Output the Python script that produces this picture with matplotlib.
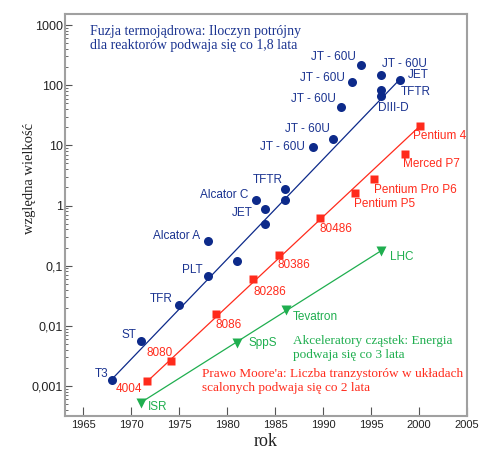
"""Trzy prawa wzrostu: fuzja, prawo Moore'a, akceleratory."""

import matplotlib.pyplot as plt
from matplotlib.ticker import FixedLocator, FixedFormatter, LogLocator, NullFormatter

# --- dane: fuzja termojadrowa ---
fusion_years = [1968, 1971, 1975, 1978, 1978, 1981, 1983, 1984, 1984, 1986,
                1986, 1988.9, 1991, 1991.9, 1993, 1994, 1996, 1996, 1996, 1998]
fusion_values = [0.00126, 0.0057, 0.022, 0.067, 0.26, 0.118, 1.25, 0.885, 0.49, 1.86,
                 1.25, 9.3, 12.9, 43.4, 113, 219, 149, 83, 66, 120]
fusion_labels = ['T3', 'ST', 'TFR', 'PLT', 'Alcator A', '', 'Alcator C', 'JET', '', 'TFTR',
                 '', 'JT - 60U', 'JT - 60U', 'JT - 60U', 'JT - 60U', 'JT - 60U', 'JT - 60U',
                 'TFTR', 'DIII-D', 'JET']
fusion_trend_years = [1968, 1998]
fusion_trend = [0.0013, 125]

# --- dane: procesory ---
cpu_years = [1971.7, 1974.1, 1978.8, 1982.7, 1985.4, 1989.7, 1993.3, 1995.3, 1998.5, 2000.1]
cpu_values = [0.0012, 0.0026, 0.0159, 0.059, 0.151, 0.63, 1.6, 2.72, 7.2, 21]
cpu_labels = ['4004', '8080', '8086', '80286', '80386', '80486', 'Pentium P5',
              'Pentium Pro P6', 'Merced P7', 'Pentium 4']
cpu_trend_years = [1971.7, 2000.1]
cpu_trend = [0.0012, 21]

# --- dane: akceleratory ---
acc_years = [1971, 1981, 1986.1, 1996]
acc_values = [0.00053, 0.0052, 0.0183, 0.175]
acc_labels = ['ISR', 'SppS', 'Tevatron', 'LHC']

y_ticks = [0.001, 0.01, 0.1, 1, 10, 100, 1000]
y_tick_labels = ['0,001', '0,01', '0,1', '1', '10', '100', '1000']
x_ticks = [1965, 1970, 1975, 1980, 1985, 1990, 1995, 2000, 2005]

BLUE = '#0d2a8a'
BLUE_TXT = '#1a3390'
RED = '#ff2b1c'
GREEN = '#1fae4f'
SANS = 'Liberation Sans'
SERIF = 'Liberation Serif'

# przesuniecia etykiet w pikselach (dx, dy, ha, va)
fusion_offsets = [(-4, 3, 'right', 'baseline'), (-4, 3, 'right', 'baseline'),
                  (-6, 3, 'right', 'baseline'), (-5, 3, 'right', 'baseline'),
                  (-8, 1.5, 'right', 'baseline'), (0, 0, 'left', 'center'),
                  (-8, 1.5, 'right', 'baseline'), (-13, -4, 'right', 'center'),
                  (0, 0, 'left', 'center'), (-2, 6, 'right', 'baseline'),
                  (0, 0, 'left', 'center'), (-8, 0, 'right', 'center'),
                  (-3, 7, 'right', 'baseline'), (-5, 4.5, 'right', 'baseline'),
                  (-7, 0.5, 'right', 'baseline'), (-6, 4.5, 'right', 'baseline'),
                  (1, 8, 'left', 'baseline'), (20, -2, 'left', 'center'),
                  (-3, -6, 'left', 'top'), (8, 2, 'left', 'baseline')]
cpu_offsets = [(-5, -2, 'right', 'top'), (2, 5, 'right', 'baseline'),
               (0, -5, 'left', 'top'), (0, -7, 'left', 'top'),
               (-1, -4.5, 'left', 'top'), (-1, -5, 'left', 'top'),
               (-1, -4.5, 'left', 'top'), (0, -4.5, 'left', 'top'),
               (-2, -4, 'left', 'top'), (-7, -4, 'left', 'top')]
acc_offsets = [(7, -4, 'left', 'center'), (12, 0, 'left', 'center'),
               (7.5, -6.5, 'left', 'center'), (9, -5.5, 'left', 'center')]


def put_labels(ax, xs, ys, labels, offsets, color):
    """Podpisy punktow z przesunieciem w pikselach."""
    for x, y, text, (dx, dy, ha, va) in zip(xs, ys, labels, offsets):
        if text:
            ax.annotate(text, (x, y), xytext=(dx, dy), textcoords='offset pixels',
                        ha=ha, va=va, color=color, fontsize=8.5, family=SANS)


fig = plt.figure(figsize=(4.93, 4.55), dpi=100)
ax = fig.add_axes([0.1318, 0.0857, 0.8154, 0.8835])

ax.plot(fusion_trend_years, fusion_trend, color=BLUE, lw=0.9)
ax.plot(cpu_trend_years, cpu_trend, color=RED, lw=0.9)
ax.plot([acc_years[0], acc_years[-1]], [acc_values[0], acc_values[-1]], color=GREEN, lw=0.9)

ax.plot(fusion_years, fusion_values, 'o', color=BLUE, ms=6.5, mec='none')
ax.plot(cpu_years, cpu_values, 's', color=RED, ms=6, mec='none')
ax.plot(acc_years, acc_values, 'v', color=GREEN, ms=7, mec='none')

put_labels(ax, fusion_years, fusion_values, fusion_labels, fusion_offsets, BLUE_TXT)
put_labels(ax, cpu_years, cpu_values, cpu_labels, cpu_offsets, RED)
put_labels(ax, acc_years, acc_values, acc_labels, acc_offsets, GREEN)

ax.set_yscale('log')
ax.set_xlim(1963.1, 2005)
ax.set_ylim(3.17e-4, 1524)

ax.yaxis.set_major_locator(FixedLocator(y_ticks))
ax.yaxis.set_major_formatter(FixedFormatter(y_tick_labels))
ax.yaxis.set_minor_locator(LogLocator(base=10, subs=range(2, 10), numticks=20))
ax.yaxis.set_minor_formatter(NullFormatter())
ax.set_xticks(x_ticks)
ax.set_xticklabels([str(v) for v in x_ticks])

ax.tick_params(axis='y', which='major', direction='in', length=5, width=0.8,
               color='#555555', pad=1.5, labelsize=9)
ax.tick_params(axis='y', which='minor', direction='in', length=2.5, width=0.6,
               color='#555555')
ax.tick_params(axis='x', which='major', direction='in', length=6.5, width=0.8,
               color='#555555', pad=3, labelsize=8)
for lab in ax.get_xticklabels() + ax.get_yticklabels():
    lab.set_family(SANS)
    lab.set_color('#222222')

for sp in ax.spines.values():
    sp.set_color('#a0a0a0')
    sp.set_linewidth(1.5)

ax.text(0.062, 0.972, 'Fuzja termojądrowa: Iloczyn potrójny\ndla reaktorów podwaja się co 1,8 lata',
        transform=ax.transAxes, ha='left', va='top', color=BLUE_TXT, fontsize=10,
        family=SERIF, linespacing=1.1)
ax.text(0.568, 0.201, 'Akceleratory cząstek: Energia\npodwaja się co 3 lata',
        transform=ax.transAxes, ha='left', va='top', color=GREEN, fontsize=9.5,
        family=SERIF, linespacing=1.15)
ax.text(0.340, 0.119, "Prawo Moore'a: Liczba tranzystorów w układach\nscalonych podwaja się co 2 lata",
        transform=ax.transAxes, ha='left', va='top', color=RED, fontsize=9.5,
        family=SERIF, linespacing=1.15)

fig.text(29 / 493, 1 - 178 / 455, 'względna wielkość', rotation=90, ha='center', va='center',
         fontsize=10.5, family=SERIF, color='#222222')
fig.text(265.5 / 493, 1 - 442 / 455, 'rok', ha='center', va='center',
         fontsize=13, family=SERIF, color='#222222')

fig.savefig('out.png', dpi=100)
